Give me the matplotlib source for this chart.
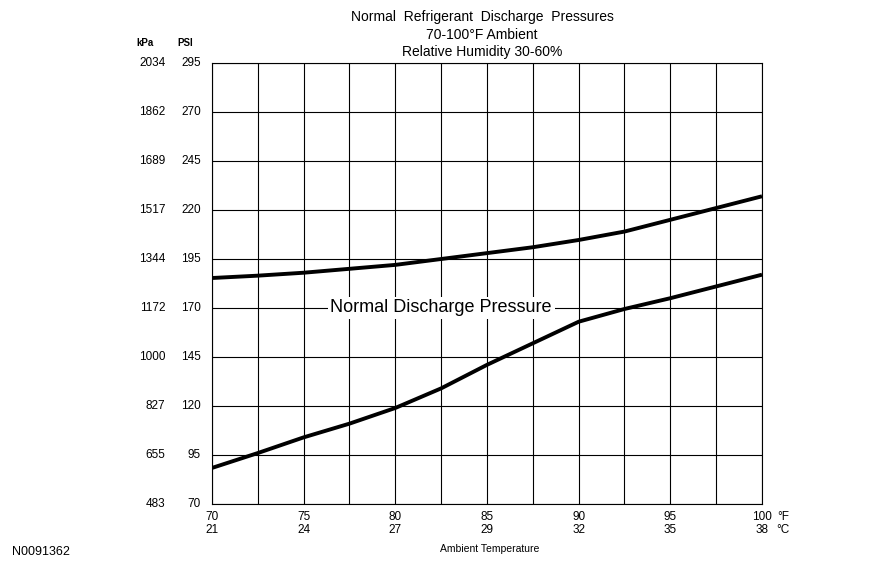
import matplotlib.pyplot as plt

temp_f = [70, 72.5, 75, 77.5, 80, 82.5, 85, 87.5, 90, 92.5, 95, 97.5, 100]
upper_psi = [185.3, 186.5, 188, 190, 192, 195, 198, 201, 204.7, 209, 215, 221, 227]
lower_psi = [88.4, 96, 104, 111, 119, 129, 141, 152, 163, 169.5, 175, 181, 187]

f_ticks = [70, 75, 80, 85, 90, 95, 100]
c_ticks = [21, 24, 27, 29, 32, 35, 38]
psi_ticks = [70, 95, 120, 145, 170, 195, 220, 245, 270, 295]
kpa_ticks = [483, 655, 827, 1000, 1172, 1344, 1517, 1689, 1862, 2034]

plt.rcParams["font.family"] = ["Liberation Sans", "DejaVu Sans"]
fig = plt.figure(figsize=(8.7, 5.68), dpi=100)
ax = fig.add_axes([212 / 870, 1 - 504 / 568, 550 / 870, 441 / 568])

ax.plot(temp_f, upper_psi, color="black", lw=2.8, solid_capstyle="butt")
ax.plot(temp_f, lower_psi, color="black", lw=2.8, solid_capstyle="butt")
ax.set_xlim(70, 100)
ax.set_ylim(70, 295)
ax.set_xticks([70 + 2.5 * i for i in range(13)])
ax.set_yticks(psi_ticks)
ax.grid(True, color="black", lw=0.8)
ax.tick_params(length=0, labelbottom=False, labelleft=False)
for s in ax.spines.values():
    s.set_linewidth(0.8)

for f, c in zip(f_ticks, c_ticks):
    ax.text(f, -0.015, str(f), transform=ax.get_xaxis_transform(), ha="center", va="top", fontsize=8.5)
    ax.text(f, -0.045, str(c), transform=ax.get_xaxis_transform(), ha="center", va="top", fontsize=8.5)
ax.text(1.038, -0.015, "°F", transform=ax.transAxes, ha="center", va="top", fontsize=8.5)
ax.text(1.038, -0.045, "°C", transform=ax.transAxes, ha="center", va="top", fontsize=8.5)

for p, k in zip(psi_ticks, kpa_ticks):
    ax.text(-0.02, p, str(p), transform=ax.get_yaxis_transform(), ha="right", va="center", fontsize=8.5)
    ax.text(-0.085, p, str(k), transform=ax.get_yaxis_transform(), ha="right", va="center", fontsize=8.5)
fig.text(145 / 870, 1 - 43 / 568, "kPa", ha="center", va="center", fontsize=7, fontweight="bold")
fig.text(185 / 870, 1 - 43 / 568, "PSI", ha="center", va="center", fontsize=7, fontweight="bold")

fig.text(482 / 870, 1 - 17 / 568, "Normal  Refrigerant  Discharge  Pressures", ha="center", va="center", fontsize=10)
fig.text(482 / 870, 1 - 35 / 568, "70-100°F Ambient", ha="center", va="center", fontsize=10)
fig.text(482 / 870, 1 - 52 / 568, "Relative Humidity 30-60%", ha="center", va="center", fontsize=10)

ax.text(82.5, 170, "Normal Discharge Pressure", ha="center", va="center", fontsize=13,
        bbox=dict(facecolor="white", edgecolor="none", pad=2))
fig.text(490 / 870, 1 - 549 / 568, "Ambient Temperature", ha="center", va="center", fontsize=7.5)
fig.text(12 / 870, 1 - 552 / 568, "N0091362", ha="left", va="center", fontsize=9)

fig.savefig("out.png", dpi=100)
